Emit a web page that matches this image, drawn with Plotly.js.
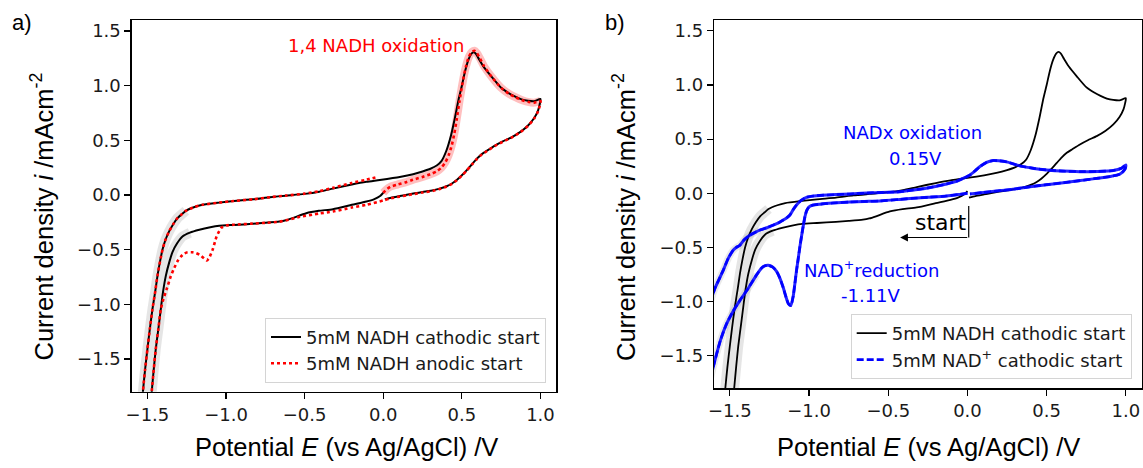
<!DOCTYPE html>
<html>
<head>
<meta charset="utf-8">
<script src="https://cdn.plot.ly/plotly-3.0.1.min.js"></script>
<style>
  html, body { margin: 0; padding: 0; background: #ffffff; }
  #chart { width: 1143px; height: 468px; }
</style>
</head>
<body>
<div id="chart"></div>
<script>
// ---------- data (potential E / V vs Ag/AgCl, current density i / mA cm^-2) ----------
// 5mM NADH, cathodic start (same run drawn in both panels)
const nadhCathE = [0.0,-0.02,-0.06,-0.107,-0.2,-0.32,-0.41,-0.49,-0.577,-0.62,-0.66,-0.75,-0.83,-0.95,-1.043,-1.1,-1.17,-1.23,-1.277,-1.31,-1.34,-1.36,-1.383,-1.40,-1.415,-1.43,-1.447,-1.46,-1.472,-1.49,-1.51,-1.55,-1.56,-1.545,-1.528,-1.515,-1.5,-1.485,-1.468,-1.45,-1.436,-1.42,-1.404,-1.385,-1.362,-1.335,-1.309,-1.28,-1.256,-1.2,-1.15,-1.043,-0.95,-0.83,-0.72,-0.62,-0.5,-0.407,-0.32,-0.2,-0.107,-0.022,0.105,0.19,0.25,0.30,0.34,0.37,0.40,0.43,0.455,0.48,0.50,0.52,0.54,0.56,0.575,0.59,0.61,0.64,0.69,0.75,0.8,0.84,0.88,0.92,0.96,1.0,0.995,0.985,0.96,0.921,0.87,0.816,0.76,0.71,0.66,0.627,0.594,0.564,0.53,0.5,0.466,0.437,0.403,0.353,0.318,0.25,0.2,0.15,0.105,0.05,0.01];
const nadhCathI = [0.02,-0.01,-0.04,-0.06,-0.09,-0.13,-0.145,-0.167,-0.212,-0.232,-0.243,-0.255,-0.264,-0.274,-0.282,-0.295,-0.318,-0.345,-0.38,-0.44,-0.52,-0.61,-0.74,-0.88,-1.045,-1.22,-1.41,-1.6,-1.79,-2.1,-2.4,-2.7,-2.4,-2.1,-1.79,-1.6,-1.41,-1.23,-1.045,-0.88,-0.74,-0.61,-0.5,-0.41,-0.333,-0.265,-0.212,-0.175,-0.145,-0.11,-0.09,-0.07,-0.055,-0.04,-0.02,-0.006,0.01,0.03,0.058,0.095,0.12,0.137,0.165,0.19,0.215,0.24,0.27,0.31,0.40,0.54,0.70,0.88,1.0,1.13,1.23,1.29,1.305,1.29,1.24,1.17,1.08,0.98,0.93,0.9,0.875,0.862,0.858,0.878,0.83,0.775,0.705,0.636,0.575,0.528,0.49,0.451,0.405,0.374,0.33,0.281,0.225,0.18,0.135,0.105,0.08,0.056,0.043,0.027,0.015,0.002,-0.01,-0.025,-0.04];

// 5mM NADH, anodic start (panel a)
const nadhAnodE = [0.0,0.02,0.045,0.09,0.14,0.19,0.25,0.30,0.34,0.37,0.395,0.415,0.435,0.452,0.468,0.485,0.505,0.525,0.545,0.565,0.58,0.595,0.615,0.64,0.69,0.75,0.8,0.84,0.88,0.92,0.96,1.0,0.995,0.985,0.96,0.921,0.87,0.816,0.76,0.71,0.66,0.627,0.594,0.564,0.53,0.5,0.466,0.437,0.403,0.353,0.318,0.25,0.2,0.15,0.105,0.05,0.0,-0.107,-0.2,-0.32,-0.41,-0.53,-0.6,-0.66,-0.75,-0.83,-0.95,-1.0,-1.03,-1.06,-1.085,-1.107,-1.122,-1.14,-1.16,-1.19,-1.215,-1.245,-1.27,-1.288,-1.31,-1.33,-1.351,-1.375,-1.40,-1.415,-1.43,-1.447,-1.46,-1.472,-1.49,-1.51,-1.55,-1.56,-1.545,-1.528,-1.515,-1.5,-1.485,-1.468,-1.45,-1.436,-1.42,-1.404,-1.385,-1.362,-1.335,-1.309,-1.28,-1.256,-1.2,-1.15,-1.043,-0.95,-0.83,-0.72,-0.62,-0.5,-0.407,-0.32,-0.2,-0.107,-0.03];
const nadhAnodI = [0.02,0.05,0.075,0.095,0.115,0.14,0.165,0.19,0.215,0.25,0.30,0.36,0.45,0.56,0.70,0.86,1.03,1.17,1.265,1.31,1.32,1.30,1.25,1.18,1.08,0.98,0.925,0.895,0.87,0.852,0.845,0.86,0.815,0.765,0.70,0.632,0.572,0.525,0.487,0.448,0.402,0.37,0.327,0.278,0.222,0.177,0.132,0.102,0.077,0.052,0.038,0.022,0.01,-0.003,-0.015,-0.03,-0.05,-0.09,-0.115,-0.152,-0.17,-0.2,-0.225,-0.245,-0.255,-0.262,-0.272,-0.28,-0.3,-0.38,-0.5,-0.575,-0.6,-0.58,-0.555,-0.532,-0.524,-0.525,-0.54,-0.565,-0.61,-0.67,-0.742,-0.85,-0.96,-1.045,-1.22,-1.41,-1.6,-1.79,-2.1,-2.4,-2.7,-2.4,-2.1,-1.79,-1.6,-1.41,-1.23,-1.045,-0.88,-0.74,-0.61,-0.5,-0.41,-0.333,-0.265,-0.212,-0.175,-0.145,-0.11,-0.09,-0.07,-0.055,-0.04,-0.02,-0.006,0.012,0.035,0.065,0.11,0.14,0.168];

// 5mM NAD+, cathodic start (panel b)
const nadCathE = [0.0,-0.05,-0.132,-0.25,-0.342,-0.426,-0.553,-0.65,-0.742,-0.85,-0.93,-0.973,-1.0,-1.015,-1.026,-1.04,-1.058,-1.07,-1.079,-1.09,-1.1,-1.115,-1.13,-1.145,-1.163,-1.185,-1.205,-1.23,-1.258,-1.28,-1.3,-1.33,-1.353,-1.39,-1.437,-1.48,-1.521,-1.56,-1.595,-1.63,-1.68,-1.64,-1.595,-1.57,-1.542,-1.51,-1.479,-1.46,-1.437,-1.41,-1.374,-1.34,-1.311,-1.27,-1.226,-1.19,-1.163,-1.14,-1.121,-1.10,-1.079,-1.05,-1.016,-0.97,-0.931,-0.83,-0.742,-0.6,-0.426,-0.342,-0.25,-0.132,-0.07,-0.026,0.016,0.05,0.079,0.12,0.163,0.2,0.248,0.332,0.42,0.5,0.6,0.711,0.82,0.921,0.97,1.0,0.995,0.963,0.9,0.816,0.7,0.605,0.5,0.395,0.3,0.184,0.1,0.016];
const nadCathI = [0.0,-0.01,-0.025,-0.037,-0.046,-0.056,-0.07,-0.075,-0.08,-0.09,-0.1,-0.108,-0.125,-0.16,-0.216,-0.33,-0.495,-0.62,-0.711,-0.84,-0.95,-1.036,-1.02,-0.96,-0.87,-0.78,-0.72,-0.68,-0.665,-0.67,-0.69,-0.75,-0.804,-0.89,-0.99,-1.09,-1.206,-1.36,-1.547,-1.75,-2.0,-1.1,-0.881,-0.8,-0.711,-0.6,-0.526,-0.5,-0.48,-0.43,-0.387,-0.36,-0.34,-0.32,-0.294,-0.27,-0.247,-0.225,-0.201,-0.15,-0.108,-0.065,-0.037,-0.025,-0.019,-0.012,-0.006,0.005,0.015,0.031,0.05,0.086,0.11,0.139,0.17,0.21,0.247,0.285,0.303,0.3,0.29,0.253,0.23,0.216,0.205,0.2,0.202,0.21,0.23,0.262,0.225,0.178,0.155,0.138,0.115,0.098,0.08,0.061,0.04,0.021,0.008,-0.006];

const legendNames = ['5mM NADH cathodic start', '5mM NADH anodic start', '5mM NAD<sup>+</sup> cathodic start'];

// ---------- helpers (subsets of the data for the shaded spread bands) ----------
function subset(E, I, keep) {
  const e = [], i = [];
  for (let k = 0; k < E.length; k++) { if (keep(E[k], I[k], k)) { e.push(E[k]); i.push(I[k]); } }
  return [e, i];
}
const grayBand = subset(nadhCathE, nadhCathI, (e) => e < -1.22);
const vertexIdx = nadhAnodE.indexOf(Math.max(...nadhAnodE));
const redBand = subset(nadhAnodE, nadhAnodI, (e, i, k) => k <= vertexIdx);
const blueBand = subset(nadCathE, nadCathI, (e) => e < -1.3);

const SPL = {shape: 'spline', smoothing: 0.6};
const traces = [
  // panel a
  {x: grayBand[0], y: grayBand[1], xaxis: 'x', yaxis: 'y', mode: 'lines', showlegend: false, hoverinfo: 'skip',
   line: Object.assign({color: 'rgba(150,150,150,0.25)', width: 10}, SPL)},
  {x: redBand[0], y: redBand[1], xaxis: 'x', yaxis: 'y', mode: 'lines', showlegend: false, hoverinfo: 'skip',
   line: Object.assign({color: 'rgba(255,0,0,0.25)', width: 8}, SPL)},
  {x: nadhCathE, y: nadhCathI, xaxis: 'x', yaxis: 'y', mode: 'lines', name: legendNames[0], legend: 'legend',
   line: Object.assign({color: '#000000', width: 2}, SPL)},
  {x: nadhAnodE, y: nadhAnodI, xaxis: 'x', yaxis: 'y', mode: 'lines', name: legendNames[1], legend: 'legend',
   line: Object.assign({color: '#ff0000', width: 2.6, dash: 'dot'}, SPL)},
  // panel b
  {x: grayBand[0], y: grayBand[1], xaxis: 'x2', yaxis: 'y2', mode: 'lines', showlegend: false, hoverinfo: 'skip',
   line: Object.assign({color: 'rgba(150,150,150,0.25)', width: 10}, SPL)},
  {x: blueBand[0], y: blueBand[1], xaxis: 'x2', yaxis: 'y2', mode: 'lines', showlegend: false, hoverinfo: 'skip',
   line: Object.assign({color: 'rgba(150,150,150,0.2)', width: 7}, SPL)},
  {x: nadhCathE, y: nadhCathI, xaxis: 'x2', yaxis: 'y2', mode: 'lines', name: legendNames[0], legend: 'legend2',
   line: Object.assign({color: '#000000', width: 1.8}, SPL)},
  {x: nadCathE, y: nadCathI, xaxis: 'x2', yaxis: 'y2', mode: 'lines', showlegend: false, hoverinfo: 'skip',
   line: Object.assign({color: 'rgba(0,0,255,0.85)', width: 3}, SPL)},
  {x: nadCathE, y: nadCathI, xaxis: 'x2', yaxis: 'y2', mode: 'lines', name: legendNames[2], legend: 'legend2',
   line: Object.assign({color: '#0000ff', width: 2.6, dash: '7px,3px'}, SPL)}
];

const W = 1143, H = 468;
const tickFont = {family: 'DejaVu Sans', size: 18, color: '#1a1a1a'};
function axis(domain, range, anchor) {
  return {domain: domain, range: range, anchor: anchor, showgrid: false, zeroline: false,
    showline: true, mirror: true, linecolor: '#000000', linewidth: 1.3,
    ticks: 'outside', ticklen: 6, tickwidth: 1.2, tickcolor: '#000000',
    tick0: 0, dtick: 0.5, tickformat: '.1f', tickfont: tickFont, automargin: false};
}
const titleFont = {family: 'Liberation Sans', size: 25.5, color: '#000000'};
const legendStyle = {font: {family: 'DejaVu Sans', size: 18, color: '#1a1a1a'},
  bgcolor: 'rgba(255,255,255,0.8)', bordercolor: '#d4d4d4', borderwidth: 1,
  xanchor: 'right', yanchor: 'bottom', xref: 'paper', yref: 'paper', tracegroupgap: 0};

const layout = {
  width: W, height: H,
  margin: {l: 0, r: 0, t: 0, b: 0, pad: 0},
  paper_bgcolor: '#ffffff', plot_bgcolor: '#ffffff',
  xaxis: axis([131.7 / W, 556.2 / W], [-1.6, 1.1], 'y'),
  yaxis: axis([1 - 391.7 / H, 1 - 20.1 / H], [-1.8, 1.6], 'x'),
  xaxis2: axis([714 / W, 1141.7 / W], [-1.6, 1.1], 'y2'),
  yaxis2: axis([1 - 388.3 / H, 1 - 20 / H], [-1.8, 1.6], 'x2'),
  legend: Object.assign({x: 546 / W, y: 1 - 382.7 / H}, legendStyle),
  legend2: Object.assign({x: 1131.7 / W, y: 1 - 379 / H}, legendStyle),
  shapes: [
    {type: 'line', xref: 'x2', yref: 'y2', x0: 0.008, x1: 0.008, y0: -0.118, y1: -0.408,
     line: {color: '#000000', width: 1.2}}
  ],
  annotations: [
    // panel labels
    {xref: 'paper', yref: 'paper', x: 22 / W, y: 1 - 22 / H, text: 'a)', showarrow: false,
     xanchor: 'center', yanchor: 'middle', font: {family: 'Liberation Sans', size: 22, color: '#000000'}},
    {xref: 'paper', yref: 'paper', x: 615 / W, y: 1 - 22 / H, text: 'b)', showarrow: false,
     xanchor: 'center', yanchor: 'middle', font: {family: 'Liberation Sans', size: 22, color: '#000000'}},
    // axis titles
    {xref: 'paper', yref: 'paper', x: 346 / W, y: 1 - 447 / H, text: 'Potential <i>E</i> (vs Ag/AgCl) /V', showarrow: false,
     xanchor: 'center', yanchor: 'middle', font: titleFont},
    {xref: 'paper', yref: 'paper', x: 928 / W, y: 1 - 447 / H, text: 'Potential <i>E</i> (vs Ag/AgCl) /V', showarrow: false,
     xanchor: 'center', yanchor: 'middle', font: titleFont},
    {xref: 'paper', yref: 'paper', x: 42.5 / W, y: 1 - 217 / H, text: 'Current density <i>i</i> /mAcm<sup>-2</sup>', showarrow: false,
     textangle: -90, xanchor: 'center', yanchor: 'middle', font: titleFont},
    {xref: 'paper', yref: 'paper', x: 624 / W, y: 1 - 217 / H, text: 'Current density <i>i</i> /mAcm<sup>-2</sup>', showarrow: false,
     textangle: -90, xanchor: 'center', yanchor: 'middle', font: titleFont},
    // in-plot labels
    {xref: 'x', yref: 'y', x: -0.045, y: 1.363, text: '1,4 NADH oxidation', showarrow: false,
     xanchor: 'center', yanchor: 'middle', font: {family: 'DejaVu Sans', size: 18, color: '#ff0000'}},
    {xref: 'x2', yref: 'y2', x: -0.35, y: 0.564, text: 'NADx oxidation', showarrow: false,
     xanchor: 'center', yanchor: 'middle', font: {family: 'DejaVu Sans', size: 18, color: '#0000ff'}},
    {xref: 'x2', yref: 'y2', x: -0.328, y: 0.318, text: '0.15V', showarrow: false,
     xanchor: 'center', yanchor: 'middle', font: {family: 'DejaVu Sans', size: 18, color: '#0000ff'}},
    {xref: 'x2', yref: 'y2', x: -0.60, y: -0.70, text: 'NAD<sup>+</sup>reduction', showarrow: false,
     xanchor: 'center', yanchor: 'middle', font: {family: 'DejaVu Sans', size: 18, color: '#0000ff'}},
    {xref: 'x2', yref: 'y2', x: -0.61, y: -0.944, text: '-1.11V', showarrow: false,
     xanchor: 'center', yanchor: 'middle', font: {family: 'DejaVu Sans', size: 18, color: '#0000ff'}},
    {xref: 'x2', yref: 'y2', x: -0.17, y: -0.27, text: 'start', showarrow: false,
     xanchor: 'center', yanchor: 'middle', font: {family: 'DejaVu Sans', size: 22, color: '#000000'}},
    {xref: 'x2', yref: 'y2', axref: 'x2', ayref: 'y2', x: -0.425, y: -0.408, ax: 0.008, ay: -0.408,
     text: '', showarrow: true, arrowhead: 2, arrowsize: 1.3, arrowwidth: 1.2, arrowcolor: '#000000', standoff: 0, startstandoff: 0}
  ]
};

Plotly.newPlot('chart', traces, layout, {staticPlot: true, displayModeBar: false});
</script>
</body>
</html>
